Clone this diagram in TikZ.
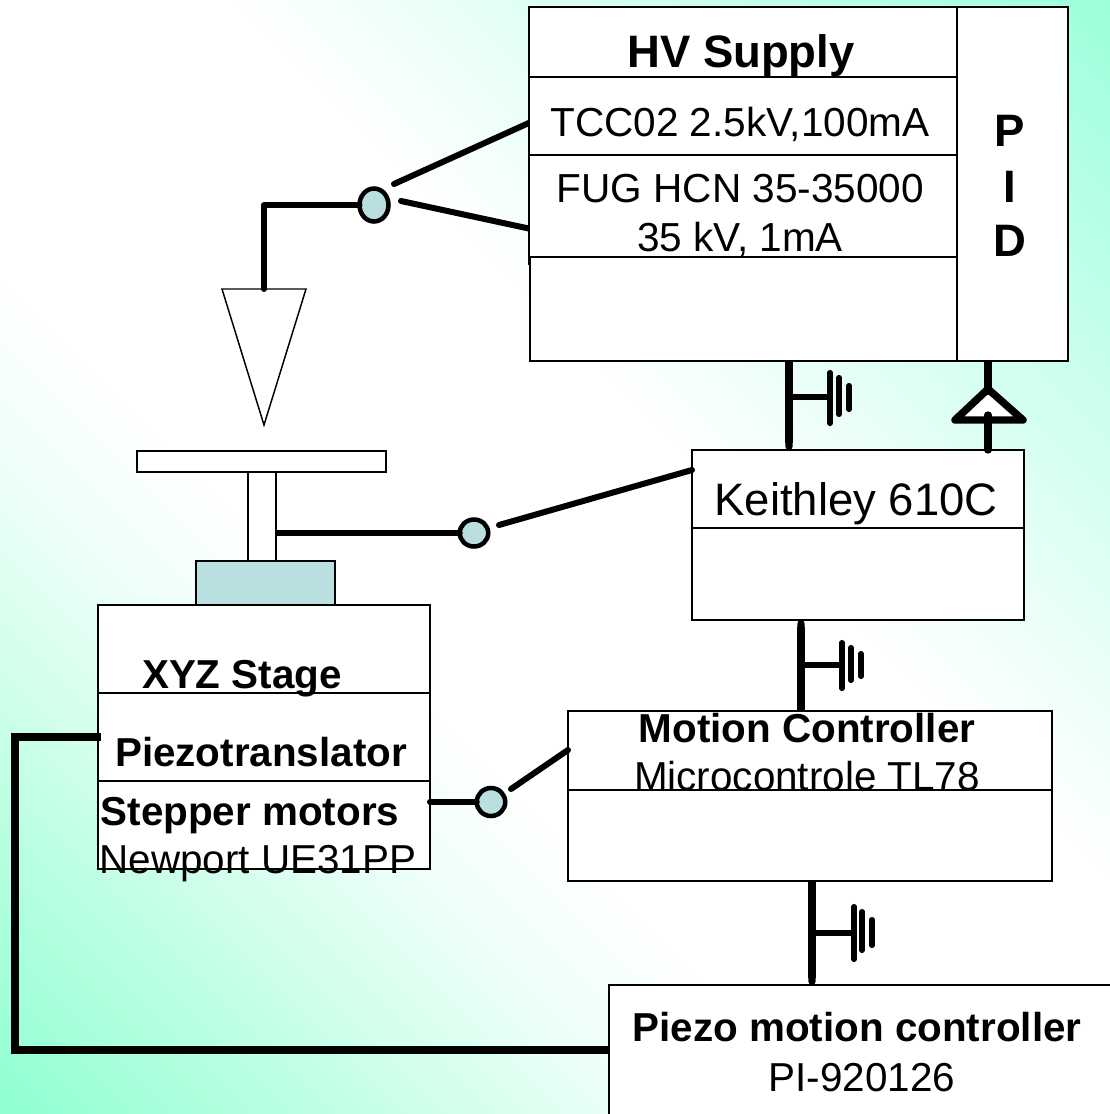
\documentclass[tikz,border=0pt]{standalone}
\usepackage{fontspec}
\setmainfont{Liberation Sans}
\usetikzlibrary{shapes.geometric,calc,arrows.meta}
\definecolor{teal1}{HTML}{B9DFE1}
\pgfdeclarehorizontalshading{bgdiag}{100bp}{rgb(0bp)=(0.565,1,0.824); rgb(14.65bp)=(0.565,1,0.824); rgb(21.7bp)=(0.69,1,0.87); rgb(34.4bp)=(0.918,1,0.965); rgb(41.5bp)=(1,1,1); rgb(57.1bp)=(1,1,1); rgb(65.6bp)=(0.894,1,0.957); rgb(82.2bp)=(0.659,1,0.878); rgb(85.35bp)=(0.61,1,0.847); rgb(100bp)=(0.61,1,0.847)}
\tikzset{
  cellbox/.style={draw=black,fill=white,line width=1.4pt,rectangle,inner sep=0pt,outer sep=0pt},
  labn/.style={anchor=base,inner sep=0pt,outer sep=0pt,text=black,font=\fontsize{30.3}{36}\selectfont},
  labm/.style={labn,font=\fontsize{30.4}{36}\selectfont},
  labb/.style={labn,font=\fontsize{30.3}{36}\selectfont\bfseries},
  labl/.style={labn,font=\fontsize{34.1}{40}\selectfont},
  labbl/.style={labn,font=\fontsize{34.1}{40}\selectfont\bfseries},
  wire/.style={line width=4.5pt,line cap=round,line join=round,draw=black},
  gwire/.style={line width=5.5pt,draw=black},
  garm/.style={line width=4.1pt,draw=black},
  gnd/.style={line width=3.8pt,line cap=round,draw=black},
  knob/.style={ellipse,draw=black,fill=teal1,line width=3.4pt,inner sep=0pt,outer sep=0pt}
}
\newcommand{\cell}[6][]{\node[cellbox,#1,minimum width={(#5-#3)*0.75pt},minimum height={(#6-#4)*0.75pt}] (#2) at ({(#3+#5)/2},{(#4+#6)/2}) {};}
\begin{document}
\begin{tikzpicture}[x=0.75pt,y=-0.75pt]
\useasboundingbox (0,0) rectangle (1110,1114);
\clip (0,0) rectangle (1110,1114);
% background gradient
\shade[shading=bgdiag,shading angle=45] (0,0) rectangle (1110,1114);
% wires that pass under the boxes they reach
\coordinate (a1) at (394,184);
\coordinate (a2) at (401,201);
\coordinate (tcce) at (531,122);
\coordinate (fuge) at (531,229);
\draw[wire] (a1) -- (tcce);
\draw[wire] (a2) -- (fuge);
\node[knob,minimum width={28.5*0.75pt},minimum height={27*0.75pt}] (k2) at (474,533) {};
\coordinate (postw) at (270,533);
\draw[wire] (postw) -- (k2.west);
% HV supply
\cell{hvtop}{529}{7}{957}{77}
\cell{tcc}{529}{77}{957}{155}
\cell{fug}{529}{155}{957}{264}
\cell{hvlow}{530}{257}{957}{361}
\cell{pid}{957}{7}{1068}{361}
% tip and stage
\coordinate (tipL) at (222,289);
\coordinate (tipR) at (306,289);
\coordinate (tipB) at (264,425);
\coordinate (tipT) at (264,289);
\draw[fill=white,line width=1.1pt,line join=miter] (tipL) -- (tipR) -- (tipB) -- cycle;
\cell{plate}{137}{451}{386}{472}
\cell{post}{248}{472}{276}{561}
\cell[fill=teal1]{base}{196}{561}{335}{605}
\cell{xyz}{98}{605}{430}{693}
\cell{piezo}{98}{693}{430}{781}
\cell{stepper}{98}{781}{430}{869}
% instruments
\cell{keith}{692}{450}{1024}{528}
\cell{keithlow}{692}{528}{1024}{620}
\cell{motion}{568}{711}{1052}{790}
\cell{motionlow}{568}{790}{1052}{881}
\cell{pictrl}{609}{985}{1130}{1135}
% knobs
\node[knob,minimum width={29*0.75pt},minimum height={33*0.75pt}] (k1) at (374,205) {};
\node[knob,minimum width={28.5*0.75pt},minimum height={28*0.75pt}] (k3) at (491,802) {};
% wires with free ends
\coordinate (c1) at (264,205);
\draw[wire] (k1.west) -- (c1) -- (tipT);
\coordinate (b1) at (499,525);
\coordinate (keithe) at (692,470);
\draw[wire] (b1) -- (keithe);
\coordinate (stepe) at (430,802);
\coordinate (d1) at (511,789);
\coordinate (motione) at (568,750);
\draw[wire] (stepe) -- (k3.west);
\draw[wire] (d1) -- (motione);
% long wire
\coordinate (lw1) at (15,737);
\coordinate (lw2) at (15,1050);
\coordinate (lwe) at (101,737);
\coordinate (lwp) at (609,1050);
\draw[line width=6pt,draw=black,line join=miter] (lwe) -- (lw1) -- (lw2) -- (lwp);
% ground 1
\coordinate (g1) at (789,397);
\draw[gwire,-{Round Cap[]}] (g1 |- hvlow.south) -- (g1 |- keith.north);
\coordinate (g1b) at (830,397);
\draw[garm] (g1) -- (g1b);
\coordinate (g1c) at (839,397); \coordinate (g1d) at (849,397);
\draw[gnd] ($(g1b)+(0,-24.5)$) -- ($(g1b)+(0,26.5)$);
\draw[gnd] ($(g1c)+(0,-19.5)$) -- ($(g1c)+(0,17.5)$);
\draw[gnd] ($(g1d)+(0,-11.5)$) -- ($(g1d)+(0,12.5)$);
% ground 2
\coordinate (g2) at (801,665);
\draw[gwire,{Round Cap[]}-] (g2 |- keithlow.south) -- (g2 |- motion.north);
\coordinate (g2b) at (842,665);
\draw[garm] (g2) -- (g2b);
\coordinate (g2c) at (851,665); \coordinate (g2d) at (861,665);
\draw[gnd] ($(g2b)+(0,-22.5)$) -- ($(g2b)+(0,23.5)$);
\draw[gnd] ($(g2c)+(0,-17.5)$) -- ($(g2c)+(0,15.5)$);
\draw[gnd] ($(g2d)+(0,-11.5)$) -- ($(g2d)+(0,11.5)$);
% ground 3
\coordinate (g3) at (812,933);
\draw[gwire,-{Round Cap[]}] (g3 |- motionlow.south) -- (g3 |- pictrl.north);
\coordinate (g3b) at (854,933);
\draw[garm] (g3) -- (g3b);
\coordinate (g3c) at (862,933); \coordinate (g3d) at (872,933);
\draw[gnd] ($(g3b)+(0,-26.5)$) -- ($(g3b)+(0,26.5)$);
\draw[gnd] ($(g3c)+(0,-21.5)$) -- ($(g3c)+(0,17.5)$);
\draw[gnd] ($(g3d)+(0,-13.5)$) -- ($(g3d)+(0,12.5)$);
% PID link with triangle
\coordinate (tr1) at (988,389);
\coordinate (tr2) at (1023,420);
\coordinate (tr3) at (955,420);
\draw[line width=5.6pt,line join=round,draw=black,fill=white] (tr1) -- (tr2) -- (tr3) -- cycle;
\coordinate (trt) at (988,395);
\coordinate (trb) at (988,415);
\draw[gwire,-{Round Cap[]}] (trt |- pid.south) -- (trt);
\draw[wire,line width=5.5pt] (trb |- keith.north) -- (trb);
% labels
\node[labbl] (l1) at (741,67) {HV Supply};
\node[labm] (l2) at (740,136) {TCC02 2.5kV,100mA};
\node[labm] (l3) at (740.5,202) {FUG HCN 35-35000};
\node[labm] (l4) at (740,251) {35 kV, 1mA};
\node[labbl] (l5) at (1010,146) {P};
\node[labbl] (l6) at (1010,202) {I};
\node[labbl] (l7) at (1010,256) {D};
\node[labl] (l8) at (856,515) {Keithley 610C};
\node[labb] (l9) at (242,688) {XYZ Stage};
\node[labb] (l10) at (261,766) {Piezotranslator};
\node[labb] (l11) at (250,825) {Stepper motors};
\node[labn] (l12) at (258,873) {Newport UE31PP};
\node[labb] (l13) at (807,742) {Motion Controller};
\node[labn] (l14) at (807,790) {Microcontrole TL78};
\node[labb] (l15) at (857,1041) {Piezo motion controller};
\node[labn] (l16) at (862,1091) {PI-920126};
\end{tikzpicture}
\end{document}
